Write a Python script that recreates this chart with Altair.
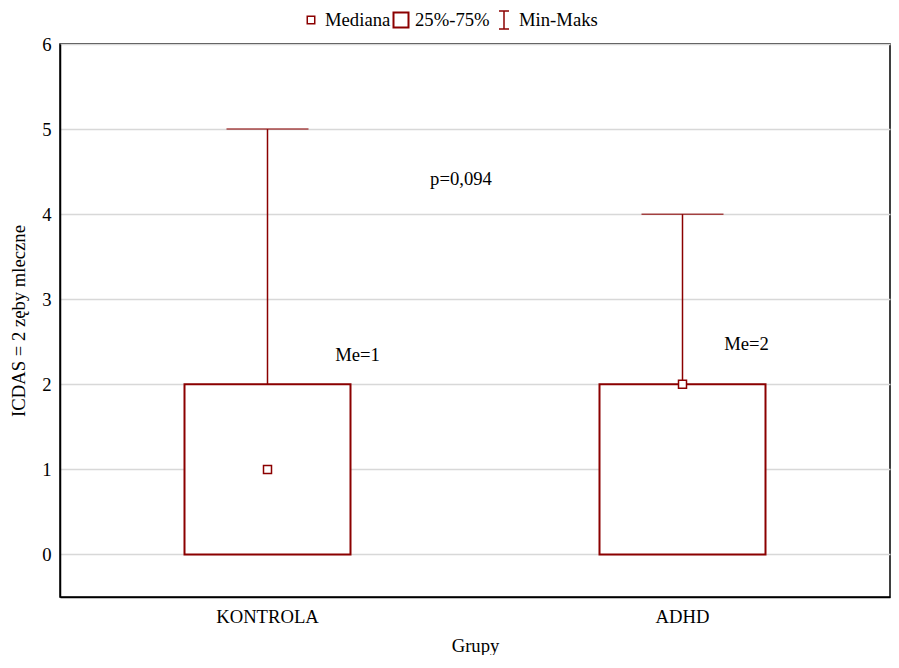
import altair as alt
import pandas as pd

groups = ["KONTROLA", "ADHD"]
q1 = [0, 0]
q3 = [2, 2]
vmin = [0, 0]
vmax = [5, 4]
median = [1, 2]
me_labels = ["Me=1", "Me=2"]
me_y = [2.35, 2.47]
p_label = "p=0,094"
p_y = 4.41

RED = "#8b0000"
FONT = "Liberation Serif"
FS = 18.67

df = pd.DataFrame({"g": groups, "q1": q1, "q3": q3, "mn": vmin, "mx": vmax,
                   "med": median, "lab": me_labels, "ly": me_y})

xenc = alt.X("g:N", sort=groups, title="Grupy",
             scale=alt.Scale(paddingInner=0, paddingOuter=0),
             axis=alt.Axis(labelAngle=0, ticks=False, labelPadding=10, titlePadding=11,
                           domainColor="black", domainWidth=1.5))
yscale = alt.Scale(domain=[-0.5, 6], nice=False, zero=False)
yaxis = alt.Axis(values=[0, 1, 2, 3, 4, 5, 6], format="d", ticks=False, labelPadding=9,
                 titlePadding=13, grid=True, gridColor="#d8d8d8", gridWidth=1.5,
                 domainColor="black", domainWidth=1.5)

base = alt.Chart(df)

box = base.mark_bar(size=166, fill="white", stroke=RED, strokeWidth=2).encode(
    x=xenc,
    y=alt.Y("q1:Q", scale=yscale, axis=yaxis, title="ICDAS = 2 zęby mleczne"),
    y2="q3:Q",
)
whisk = base.mark_rule(color=RED, strokeWidth=1.5).encode(
    x=alt.X("g:N", sort=groups), y="q3:Q", y2="mx:Q")
cap = base.mark_tick(color=RED, size=82, thickness=1.5, orient="horizontal").encode(
    x=alt.X("g:N", sort=groups), y="mx:Q")
med = base.mark_point(shape="square", size=64, filled=True, fill="white", stroke=RED,
                      strokeWidth=1.5, opacity=1).encode(
    x=alt.X("g:N", sort=groups), y="med:Q")

me1 = alt.Chart(df.iloc[[0]]).mark_text(font=FONT, fontSize=FS, dx=90, baseline="middle",
                                         color="black").encode(
    x=alt.X("g:N", sort=groups), y="ly:Q", text="lab:N")
me2 = alt.Chart(df.iloc[[1]]).mark_text(font=FONT, fontSize=FS, dx=64, baseline="middle",
                                         color="black").encode(
    x=alt.X("g:N", sort=groups), y="ly:Q", text="lab:N")
pdf = pd.DataFrame({"t": [p_label], "y": [p_y]})
ptxt = alt.Chart(pdf).mark_text(font=FONT, fontSize=FS, baseline="middle", color="black").encode(
    x=alt.value(401), y="y:Q", text="t:N")

one = pd.DataFrame({"a": [0]})
LY = -24
leg_items = [
    alt.Chart(one).mark_point(shape="square", size=56, filled=True, fill="white", stroke=RED,
                              strokeWidth=1.5, opacity=1).encode(x=alt.value(251), y=alt.value(LY)),
    alt.Chart(one).mark_text(text="Mediana", font=FONT, fontSize=FS, align="left",
                             baseline="middle").encode(x=alt.value(265), y=alt.value(LY)),
    alt.Chart(one).mark_point(shape="square", size=225, filled=True, fill="white", stroke=RED,
                              strokeWidth=2, opacity=1).encode(x=alt.value(341), y=alt.value(LY)),
    alt.Chart(one).mark_text(text="25%-75%", font=FONT, fontSize=FS, align="left",
                             baseline="middle").encode(x=alt.value(355), y=alt.value(LY)),
    alt.Chart(one).mark_rule(color=RED, strokeWidth=1.5).encode(
        x=alt.value(444), y=alt.value(LY - 9), y2=alt.value(LY + 9)),
    alt.Chart(one).mark_rule(color=RED, strokeWidth=1.5).encode(
        x=alt.value(439), x2=alt.value(449), y=alt.value(LY - 9)),
    alt.Chart(one).mark_rule(color=RED, strokeWidth=1.5).encode(
        x=alt.value(439), x2=alt.value(449), y=alt.value(LY + 9)),
    alt.Chart(one).mark_text(text="Min-Maks", font=FONT, fontSize=FS, align="left",
                             baseline="middle").encode(x=alt.value(459), y=alt.value(LY)),
]

chart = alt.layer(box, whisk, cap, med, me1, me2, ptxt, *leg_items).properties(
    width=830, height=553,
    autosize="none",
    background="white",
    padding={"left": 52, "top": 36, "right": 1, "bottom": 58},
).configure_view(stroke="black", strokeWidth=1.5).configure_axis(
    labelFont=FONT, titleFont=FONT, labelFontSize=FS, titleFontSize=FS,
    labelColor="black", titleColor="black", titleFontWeight="normal",
)

chart.save("out.html", embed_options={"renderer": "svg", "actions": False})
